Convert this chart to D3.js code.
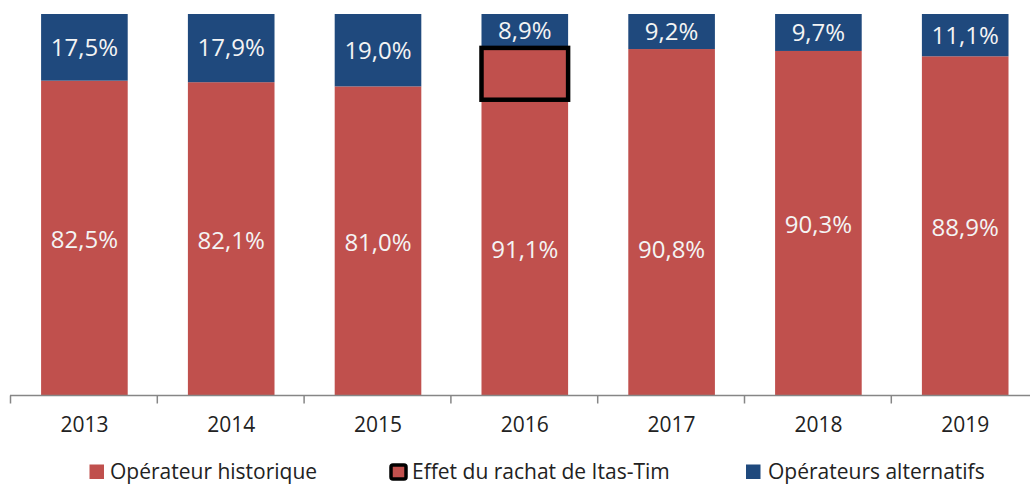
<!DOCTYPE html>
<html>
<head>
<meta charset="utf-8">
<script src="https://cdn.jsdelivr.net/npm/d3@7"></script>
<style>
  html, body { margin: 0; padding: 0; background: #ffffff; }
  svg { display: block; font-family: "Open Sans", "Noto Sans", sans-serif; }
</style>
</head>
<body>
<svg id="chart" width="1030" height="485"></svg>
<script>
// ---- data ----
const years = ["2013", "2014", "2015", "2016", "2017", "2018", "2019"];
const historique = [82.5, 82.1, 81.0, 91.1, 90.8, 90.3, 88.9];   // Opérateur historique (total share)
const effetRachat = [0, 0, 0, 13.6, 13.6, 0, 0];                // part of historique due to Itas-Tim buyout
const alternatifs = [17.5, 17.9, 19.0, 8.9, 9.2, 9.7, 11.1];     // Opérateurs alternatifs
const highlightYear = "2016";
const legendLabels = ["Opérateur historique", "Effet du rachat de Itas-Tim", "Opérateurs alternatifs"];

const RED = "#C0504D", BLUE = "#1F497D";
const fmt = v => d3.format(".1f")(v).replace(".", ",") + "%";

const svg = d3.select("#chart");
const axisY = 395.5;

const x = d3.scaleBand().domain(years).range([11, 11 + 7 * 146.8])
  .paddingInner(0.41).paddingOuter(0.205);
const y = d3.scaleLinear().domain([0, 100]).range([395, 14]);

const rows = years.map((yr, i) => ({
  year: yr,
  base: historique[i] - effetRachat[i],
  effet: effetRachat[i],
  alt: alternatifs[i],
  hist: historique[i]
}));

const stack = d3.stack().keys(["base", "effet", "alt"]);
const series = stack(rows);
const baseS = series.find(s => s.key === "base");
const effS = series.find(s => s.key === "effet");
const altS = series.find(s => s.key === "alt");

const g = svg.append("g");
// historique (base + effet, single red block)
g.append("g").selectAll("rect").data(effS).join("rect")
  .attr("x", d => x(d.data.year))
  .attr("width", x.bandwidth())
  .attr("y", d => y(d[1]))
  .attr("height", d => y(0) - y(d[1]))
  .attr("fill", RED);
// alternatifs
g.append("g").selectAll("rect").data(altS).join("rect")
  .attr("x", d => x(d.data.year))
  .attr("width", x.bandwidth())
  .attr("y", d => y(d[1]))
  .attr("height", d => y(d[0]) - y(d[1]))
  .attr("fill", BLUE);

// highlight box (Effet du rachat)
g.append("g").selectAll("rect").data(effS.filter(d => d.data.year === highlightYear)).join("rect")
  .attr("x", d => x(d.data.year))
  .attr("width", x.bandwidth())
  .attr("y", d => y(d[1]))
  .attr("height", d => y(d[0]) - y(d[1]))
  .attr("fill", "none")
  .attr("stroke", "#000")
  .attr("stroke-width", 4.5);

// value labels
const lbl = svg.append("g").attr("fill", "#f4f4f4").attr("font-size", 24).attr("text-anchor", "middle");
lbl.selectAll("text.h").data(baseS).join("text").attr("class", "h")
  .attr("x", d => x(d.data.year) + x.bandwidth() / 2)
  .attr("y", d => (y(d[0]) + y(d[1])) / 2 + 2)
  .attr("dy", "0.35em")
  .text(d => fmt(d.data.hist));
lbl.selectAll("text.a").data(altS).join("text").attr("class", "a")
  .attr("x", d => x(d.data.year) + x.bandwidth() / 2)
  .attr("y", d => (y(d[0]) + y(d[1])) / 2)
  .attr("dy", "0.35em")
  .text(d => fmt(d.data.alt));

// axis
const axG = svg.append("g").attr("transform", `translate(0,${axisY})`);
axG.call(d3.axisBottom(x).tickSize(0).tickPadding(22));
axG.select(".domain").remove();
axG.selectAll("text").attr("font-size", 21).attr("fill", "#222")
  .attr("font-family", "'Open Sans', sans-serif");
axG.append("line").attr("x1", 10).attr("x2", 1030).attr("y1", 0).attr("y2", 0)
  .attr("stroke", "#868686").attr("stroke-width", 1.5);
const bounds = d3.range(years.length + 1).map(i => x.range()[0] - 0.5 + i * x.step());
axG.selectAll("line.tk").data(bounds).join("line").attr("class", "tk")
  .attr("x1", d => d).attr("x2", d => d).attr("y1", 0).attr("y2", 8)
  .attr("stroke", "#868686").attr("stroke-width", 1.5);

// legend
const leg = svg.append("g").attr("font-size", 21).attr("fill", "#222");
const legX = [89.5, 391, 746];
const legTX = [110, 412, 768];
leg.append("rect").attr("x", legX[0]).attr("y", 464.5).attr("width", 14.5).attr("height", 14.5).attr("fill", RED);
leg.append("rect").attr("x", legX[1]).attr("y", 465).attr("width", 15).attr("height", 14).attr("fill", RED)
  .attr("stroke", "#000").attr("stroke-width", 3.5).attr("rx", 2);
leg.append("rect").attr("x", legX[2]).attr("y", 464.5).attr("width", 14.5).attr("height", 14.5).attr("fill", BLUE);
leg.selectAll("text").data(legendLabels).join("text")
  .attr("x", (d, i) => legTX[i]).attr("y", 478.5)
  .text(d => d);
</script>
</body>
</html>
